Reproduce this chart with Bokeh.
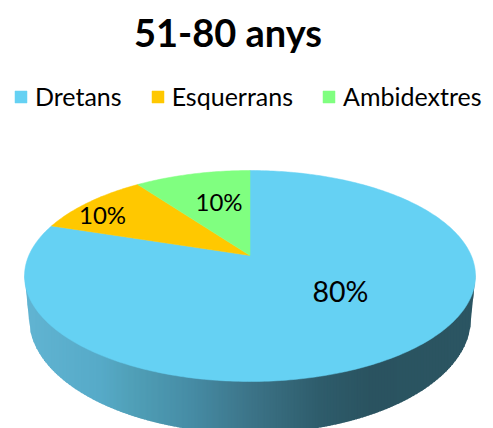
import numpy as np
from bokeh.embed import file_html
from bokeh.resources import INLINE
from bokeh.models import Legend, LegendItem, ColumnDataSource
from bokeh.plotting import figure
from bokeh.core.properties import value

# Data
title_text = "51-80 anys"
categories = ["Dretans", "Esquerrans", "Ambidextres"]
shares = [80, 10, 10]
labels = ["80%", "10%", "10%"]
colors = ["#65D1F3", "#FFC800", "#80FF80"]

# Gradient stops of the side wall (x position in px, colour)
side_x = [24, 100, 130, 190, 250, 320, 370, 475]
side_rgb = [(97, 180, 210), (86, 170, 200), (80, 160, 184), (70, 140, 165),
            (60, 116, 136), (46, 92, 107), (42, 83, 96), (43, 85, 98)]

# Geometry in page pixels
W, H, M = 493, 428, 0
CX, CY, RX, RY = 249.5, 275.5, 225.5, 105.5
APEX_Y = 255.0
BCY, BRX, BRY = 318.0, 221.0, 115.0
LABEL_X = [340, 102, 218.5]
LABEL_Y = [290, 214, 201]
LABEL_SIZE = ["28.5px", "24px", "24px"]

p = figure(width=W, height=H, x_range=(M, M + W), y_range=(M + H, M), output_backend="svg",
           toolbar_location=None, min_border=0, outline_line_color=None)
p.axis.visible = False
p.grid.visible = False
p.background_fill_color = "white"
p.border_fill_color = "white"

# Side wall: vertical strips with a horizontal gradient
xs = np.arange(CX - RX, CX + RX, 1.5)
def bottom(x):
    d = np.abs(x - CX)
    if d <= BRX:
        return BCY + BRY * np.sqrt(1 - (d / BRX) ** 2)
    return CY + (BCY - CY) * (RX - d) / (RX - BRX)
def top(x):
    return CY + RY * np.sqrt(max(0, 1 - ((x - CX) / RX) ** 2))
sx, sy, sc = [], [], []
for x0 in xs:
    x1 = min(x0 + 2.0, CX + RX)
    sx.append([x0, x1, x1, x0])
    sy.append([top(x0) - 2, top(x1) - 2, bottom(x1), bottom(x0)])
    m = (x0 + x1) / 2
    rgb = [int(round(np.interp(m, side_x, [c[i] for c in side_rgb]))) for i in range(3)]
    sc.append("#%02x%02x%02x" % tuple(rgb))
p.patches("x", "y", source=ColumnDataSource(dict(x=sx, y=sy, c=sc)), fill_color="c", line_color=None)

# Top face: slices in perspective, the pie centre appears at the apex
v0 = (CY - APEX_Y) / RY
def rim(theta):
    d = 1 + v0 * np.cos(theta)
    u = np.sin(theta) * np.sqrt(1 - v0 ** 2) / d
    v = (np.cos(theta) + v0) / d
    return CX + RX * u, CY - RY * v

cum = np.cumsum([0] + shares) / sum(shares) * 2 * np.pi
items = []
for i, cat in enumerate(categories):
    n = max(8, int(shares[i] * 4))
    th = np.linspace(cum[i], cum[i + 1], n)
    rx, ry = rim(th)
    r = p.patch(np.r_[CX, rx], np.r_[APEX_Y, ry], fill_color=colors[i], line_color=colors[i], line_width=0.5)
    items.append(LegendItem(label=cat, renderers=[r]))

# Value labels
p.text("x", "y", text="t", source=ColumnDataSource(dict(x=LABEL_X, y=LABEL_Y, t=labels, s=LABEL_SIZE)),
       text_font=value("Lato"), text_font_size="s", text_color="black",
       text_align="center", text_baseline="middle")

p.text([227.5], [31], text=[title_text], text_font=value("Lato"), text_font_size="38px",
       text_font_style="bold", text_color="black", text_align="center", text_baseline="middle")

legend = Legend(items=items, orientation="horizontal", location=(13, H - 111), spacing=28,
                glyph_width=15, glyph_height=15, label_standoff=7, padding=0, margin=0,
                border_line_color=None, background_fill_alpha=0,
                label_text_font="Lato", label_text_font_size="25px", label_text_color="black",
                label_height=15)
p.add_layout(legend)

open("out.html", "w").write(file_html(p, INLINE))
